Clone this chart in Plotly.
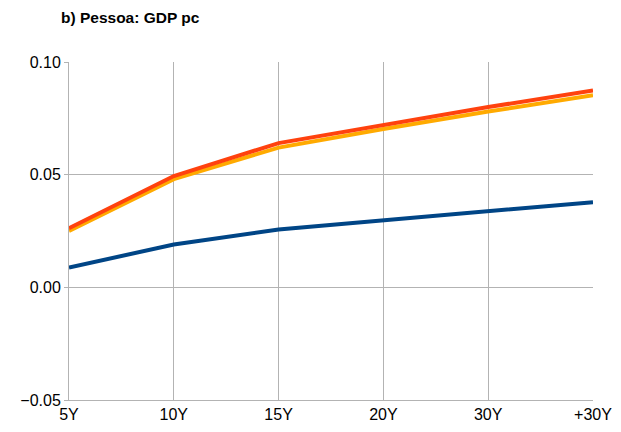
import plotly.graph_objects as go

categories = ["5Y", "10Y", "15Y", "20Y", "30Y", "+30Y"]
series_blue = [0.0088, 0.0190, 0.0257, 0.0296, 0.0336, 0.0378]
series_orange = [0.0262, 0.0494, 0.0640, 0.0722, 0.0800, 0.0874]
series_yellow = [0.0250, 0.0480, 0.0620, 0.0703, 0.0780, 0.0852]
y_ticks = [-0.05, 0.0, 0.05, 0.10]
y_tick_labels = ["\u22120.05", "0.00", "0.05", "0.10"]

fig = go.Figure()
fig.add_trace(go.Scatter(x=categories, y=series_blue, mode="lines",
                         line=dict(color="#004586", width=4), showlegend=False))
fig.add_trace(go.Scatter(x=categories, y=series_yellow, mode="lines",
                         line=dict(color="#FFAA00", width=4), showlegend=False))
fig.add_trace(go.Scatter(x=categories, y=series_orange, mode="lines",
                         line=dict(color="#FF420E", width=4), showlegend=False))

# page has an 8px body margin, so margins are compensated
fig.update_layout(
    width=621, height=432,
    margin=dict(l=54, r=36, t=54, b=40),
    paper_bgcolor="white", plot_bgcolor="white",
    font=dict(family="Liberation Sans, Arial, sans-serif", size=16, color="black"),
    title=dict(text="<b>b) Pessoa: GDP pc</b>", x=53/621, xanchor="left",
               y=1-10/432, yanchor="middle", font=dict(size=15.5)),
)
fig.update_xaxes(
    type="category", range=[0, 5], showgrid=True, gridcolor="#b3b3b3", gridwidth=1,
    showline=True, linecolor="#b3b3b3", linewidth=1, mirror=False,
    ticks="outside", ticklen=0, tickfont=dict(size=16), zeroline=False,
)
fig.update_yaxes(
    range=[-0.05, 0.10], tickvals=y_ticks, ticktext=y_tick_labels,
    showgrid=True, gridcolor="#b3b3b3", gridwidth=1, zeroline=False,
    showline=True, linecolor="#b3b3b3", linewidth=1,
    ticks="outside", ticklen=4, tickcolor="#b3b3b3", tickfont=dict(size=16),
)

fig.write_html("out.html")
